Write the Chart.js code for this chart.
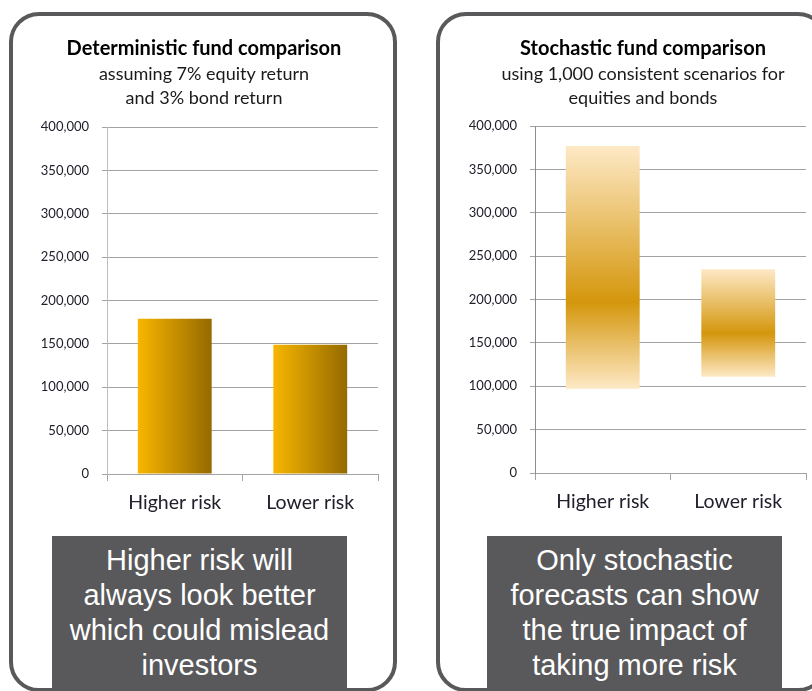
<!DOCTYPE html>
<html>
<head>
<meta charset="utf-8">
<title>Fund comparison</title>
<script src="https://cdn.jsdelivr.net/npm/chart.js@4.4.1/dist/chart.umd.min.js"></script>
<style>
  html, body { margin: 0; padding: 0; background: #fff; width: 812px; height: 691px; overflow: hidden; }
  .panel {
    position: absolute; top: 12px; height: 680px; box-sizing: border-box;
    border: 4px solid #59595b; border-radius: 30px;
  }
  #panelLeft { left: 9px; width: 388px; }
  #panelRight { left: 436px; width: 392px; }
  canvas { position: absolute; top: 0; }
  #deterministicChart { left: 20px; }
  #stochasticChart { left: 458px; }
  .note {
    position: absolute; top: 536px; width: 295px; height: 152px; box-sizing: border-box;
    padding-top: 7px; background: #59595b; color: #fff; text-align: center;
    font-family: 'Liberation Sans', Arial, sans-serif; font-size: 29px; line-height: 35px;
  }
  #noteLeft { left: 52px; }
  #noteRight { left: 487px; }
</style>
</head>
<body>
<div class="panel" id="panelLeft"></div>
<div class="panel" id="panelRight"></div>
<canvas id="deterministicChart" width="370" height="525"></canvas>
<canvas id="stochasticChart" width="370" height="525"></canvas>
<div class="note" id="noteLeft">Higher risk will<br>always look better<br>which could mislead<br>investors</div>
<div class="note" id="noteRight">Only stochastic<br>forecasts can show<br>the true impact of<br>taking more risk</div>

<script>
// Chart data
const CATEGORIES = ['Higher risk', 'Lower risk'];
const Y_TICKS = [0, 50000, 100000, 150000, 200000, 250000, 300000, 350000, 400000];
const DETERMINISTIC_VALUES = [179000, 149000];
const STOCHASTIC_LOW = [97000, 111000];
const STOCHASTIC_HIGH = [377000, 235000];
const STOCHASTIC_MEDIAN = [197000, 161000];

const BAR_RATIO = 0.545;

Chart.defaults.font.family = "Lato, 'Noto Sans', sans-serif";

document.addEventListener('DOMContentLoaded', () => {
  initDeterministicChart();
  initStochasticChart();
});

/**
 * Shared value axis
 */
function valueAxis(width, borderColor) {
  return {
    min: Y_TICKS[0],
    max: Y_TICKS[Y_TICKS.length - 1],
    afterBuildTicks: scale => { scale.ticks = Y_TICKS.map(value => ({ value })); },
    afterFit: scale => { scale.width = width; },
    grid: { color: '#a3a3a3', tickLength: 5 },
    border: { color: borderColor },
    ticks: {
      padding: 13,
      color: '#20202c',
      font: { size: 13 },
      callback: value => value.toLocaleString('en-US')
    }
  };
}

/**
 * Shared category axis
 */
function categoryAxis(height) {
  return {
    offset: true,
    afterFit: scale => { scale.height = height; },
    grid: { offset: true, drawOnChartArea: false, color: '#a3a3a3', tickLength: 7 },
    border: { color: '#a3a3a3' },
    ticks: { padding: 10, color: '#20202c', font: { size: 19.5 } }
  };
}

// empty box on the right, only there to push the title centre over
function spacerAxis(width) {
  return {
    position: 'right',
    display: true,
    afterFit: scale => { scale.width = width; },
    grid: { display: false },
    border: { display: false },
    ticks: { display: false }
  };
}

function titleBlock(title, lines, bottom) {
  return {
    title: {
      display: true,
      text: title,
      color: '#000',
      font: { size: 20, weight: 'bold', lineHeight: 1.2 },
      padding: { top: 37, bottom: 1 }
    },
    subtitle: {
      display: true,
      text: lines,
      color: '#1a1a1a',
      font: { size: 18, lineHeight: 24 / 18 },
      padding: { top: 0, bottom: bottom }
    },
    legend: { display: false },
    tooltip: { enabled: false }
  };
}

/**
 * Horizontal gold shading of the deterministic bars
 */
function sideShade(context) {
  const chart = context.chart;
  if (!chart.chartArea) return '#d09800';
  const x = chart.scales.x;
  const center = x.getPixelForValue(context.dataIndex);
  const half = x.width / CATEGORIES.length * BAR_RATIO / 2;
  const g = chart.ctx.createLinearGradient(center - half, 0, center + half, 0);
  g.addColorStop(0, '#f8b600');
  g.addColorStop(1, '#946a00');
  return g;
}

/**
 * Vertical shading of the scenario range, darkest at the median
 */
function rangeShade(context) {
  const chart = context.chart;
  const i = context.dataIndex;
  if (!chart.chartArea) return '#e8c07a';
  const y = chart.scales.y;
  const top = y.getPixelForValue(STOCHASTIC_HIGH[i]);
  const bottom = y.getPixelForValue(STOCHASTIC_LOW[i]);
  const mid = y.getPixelForValue(STOCHASTIC_MEDIAN[i]);
  const g = chart.ctx.createLinearGradient(0, top, 0, bottom);
  g.addColorStop(0, '#fee9c6');
  g.addColorStop((mid - top) / (bottom - top), '#d4960c');
  g.addColorStop(1, '#fee9c6');
  return g;
}

function initDeterministicChart() {
  const ctx = document.getElementById('deterministicChart');
  new Chart(ctx, {
    type: 'bar',
    data: {
      labels: CATEGORIES,
      datasets: [{
        data: DETERMINISTIC_VALUES,
        backgroundColor: sideShade,
        barPercentage: BAR_RATIO,
        categoryPercentage: 1
      }]
    },
    options: {
      responsive: false,
      animation: false,
      layout: { padding: { left: 10, right: 12, top: 0, bottom: 0 } },
      plugins: titleBlock('Deterministic fund comparison',
        ['assuming 7% equity return', 'and 3% bond return'], 17),
      scales: { x: categoryAxis(51), y: valueAxis(77, '#bdbdbd') }
    }
  });
}

function initStochasticChart() {
  const ctx = document.getElementById('stochasticChart');
  new Chart(ctx, {
    type: 'bar',
    data: {
      labels: CATEGORIES,
      datasets: [{
        data: CATEGORIES.map((_, i) => [STOCHASTIC_LOW[i], STOCHASTIC_HIGH[i]]),
        backgroundColor: rangeShade,
        barPercentage: BAR_RATIO,
        categoryPercentage: 1
      }]
    },
    options: {
      responsive: false,
      animation: false,
      layout: { padding: { left: 9, right: 9, top: 0, bottom: 0 } },
      plugins: titleBlock('Stochastic fund comparison',
        ['using 1,000 consistent scenarios for', 'equities and bonds'], 16),
      scales: { x: categoryAxis(52), y: valueAxis(68, '#8c8c8c'), spacer: spacerAxis(13) }
    }
  });
}
</script>
</body>
</html>
